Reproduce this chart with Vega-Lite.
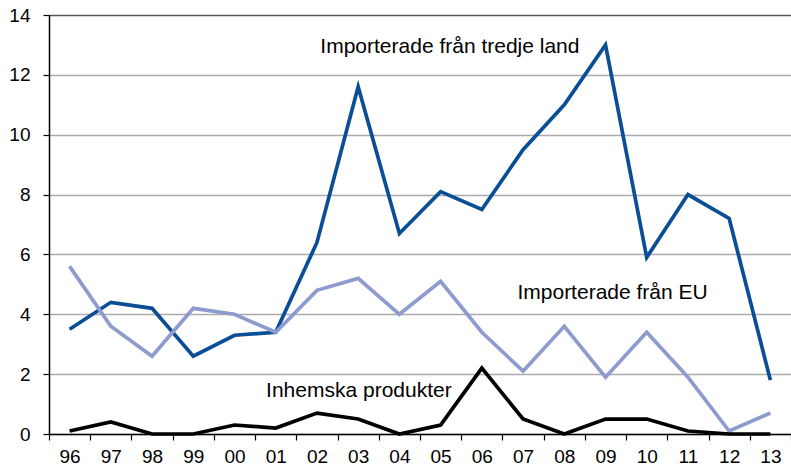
{
  "$schema": "https://vega.github.io/schema/vega-lite/v6.json",
  "width": 742,
  "height": 419,
  "autosize": {"type": "none"},
  "padding": {"left": 49, "top": 15, "right": 0, "bottom": 34},
  "background": "white",
  "config": {
    "view": {"stroke": null},
    "font": "Liberation Sans",
    "axis": {"labelFont": "Liberation Sans", "labelColor": "black", "labelFontSize": 19}
  },
  "datasets": {
    "series": [
      {"year": "96", "serie": "tredje", "value": 3.5},
      {"year": "97", "serie": "tredje", "value": 4.4},
      {"year": "98", "serie": "tredje", "value": 4.2},
      {"year": "99", "serie": "tredje", "value": 2.6},
      {"year": "00", "serie": "tredje", "value": 3.3},
      {"year": "01", "serie": "tredje", "value": 3.4},
      {"year": "02", "serie": "tredje", "value": 6.4},
      {"year": "03", "serie": "tredje", "value": 11.6},
      {"year": "04", "serie": "tredje", "value": 6.7},
      {"year": "05", "serie": "tredje", "value": 8.1},
      {"year": "06", "serie": "tredje", "value": 7.5},
      {"year": "07", "serie": "tredje", "value": 9.5},
      {"year": "08", "serie": "tredje", "value": 11.0},
      {"year": "09", "serie": "tredje", "value": 13.0},
      {"year": "10", "serie": "tredje", "value": 5.9},
      {"year": "11", "serie": "tredje", "value": 8.0},
      {"year": "12", "serie": "tredje", "value": 7.2},
      {"year": "13", "serie": "tredje", "value": 1.8},
      {"year": "96", "serie": "eu", "value": 5.6},
      {"year": "97", "serie": "eu", "value": 3.6},
      {"year": "98", "serie": "eu", "value": 2.6},
      {"year": "99", "serie": "eu", "value": 4.2},
      {"year": "00", "serie": "eu", "value": 4.0},
      {"year": "01", "serie": "eu", "value": 3.4},
      {"year": "02", "serie": "eu", "value": 4.8},
      {"year": "03", "serie": "eu", "value": 5.2},
      {"year": "04", "serie": "eu", "value": 4.0},
      {"year": "05", "serie": "eu", "value": 5.1},
      {"year": "06", "serie": "eu", "value": 3.4},
      {"year": "07", "serie": "eu", "value": 2.1},
      {"year": "08", "serie": "eu", "value": 3.6},
      {"year": "09", "serie": "eu", "value": 1.9},
      {"year": "10", "serie": "eu", "value": 3.4},
      {"year": "11", "serie": "eu", "value": 1.9},
      {"year": "12", "serie": "eu", "value": 0.1},
      {"year": "13", "serie": "eu", "value": 0.7},
      {"year": "96", "serie": "inhemska", "value": 0.1},
      {"year": "97", "serie": "inhemska", "value": 0.4},
      {"year": "98", "serie": "inhemska", "value": 0.0},
      {"year": "99", "serie": "inhemska", "value": 0.0},
      {"year": "00", "serie": "inhemska", "value": 0.3},
      {"year": "01", "serie": "inhemska", "value": 0.2},
      {"year": "02", "serie": "inhemska", "value": 0.7},
      {"year": "03", "serie": "inhemska", "value": 0.5},
      {"year": "04", "serie": "inhemska", "value": 0.0},
      {"year": "05", "serie": "inhemska", "value": 0.3},
      {"year": "06", "serie": "inhemska", "value": 2.2},
      {"year": "07", "serie": "inhemska", "value": 0.5},
      {"year": "08", "serie": "inhemska", "value": 0.0},
      {"year": "09", "serie": "inhemska", "value": 0.5},
      {"year": "10", "serie": "inhemska", "value": 0.5},
      {"year": "11", "serie": "inhemska", "value": 0.1},
      {"year": "12", "serie": "inhemska", "value": 0.0},
      {"year": "13", "serie": "inhemska", "value": 0.0}
    ],
    "labels": [
      {"year": "02", "value": 12.93, "label": "Importerade från tredje land", "shift": 24},
      {"year": "07", "value": 4.71, "label": "Importerade från EU", "shift": 15},
      {"year": "01", "value": 1.44, "label": "Inhemska produkter", "shift": 11}
    ]
  },
  "layer": [
    {
      "data": {"name": "series"},
      "mark": {"type": "line", "strokeWidth": 3.7, "strokeJoin": "miter", "strokeCap": "butt"},
      "encoding": {
        "x": {
          "field": "year",
          "type": "ordinal",
          "scale": {
            "type": "band",
            "paddingInner": 0,
            "paddingOuter": 0,
            "domain": ["96", "97", "98", "99", "00", "01", "02", "03", "04", "05", "06", "07", "08", "09", "10", "11", "12", "13"]
          },
          "axis": {
            "title": null,
            "labelAngle": 0,
            "tickBand": "extent",
            "domainColor": "black",
            "domainWidth": 1.5,
            "tickColor": "black",
            "tickWidth": 1.2,
            "tickSize": 6,
            "labelPadding": 7,
            "grid": false
          }
        },
        "y": {
          "field": "value",
          "type": "quantitative",
          "scale": {"domain": [0, 14], "nice": false},
          "axis": {
            "title": null,
            "values": [0, 2, 4, 6, 8, 10, 12, 14],
            "format": "d",
            "domainColor": "black",
            "domainWidth": 1.5,
            "tickColor": "black",
            "tickWidth": 1.2,
            "tickSize": 6,
            "labelPadding": 13,
            "grid": true,
            "gridColor": {"condition": {"test": "datum.value == 14", "value": "#555555"}, "value": "#ababab"},
            "gridWidth": 1.4
          }
        },
        "color": {
          "field": "serie",
          "type": "nominal",
          "scale": {"domain": ["eu", "tredje", "inhemska"], "range": ["#8e9bcf", "#0a4e96", "#000000"]},
          "legend": null
        }
      }
    },
    {
      "data": {"name": "labels"},
      "mark": {"type": "text", "align": "left", "baseline": "middle", "fontSize": 21, "font": "Liberation Sans", "color": "black"},
      "encoding": {
        "x": {"field": "year", "type": "ordinal"},
        "y": {"field": "value", "type": "quantitative"},
        "xOffset": {"field": "shift", "type": "quantitative", "scale": null},
        "text": {"field": "label"}
      }
    }
  ]
}
